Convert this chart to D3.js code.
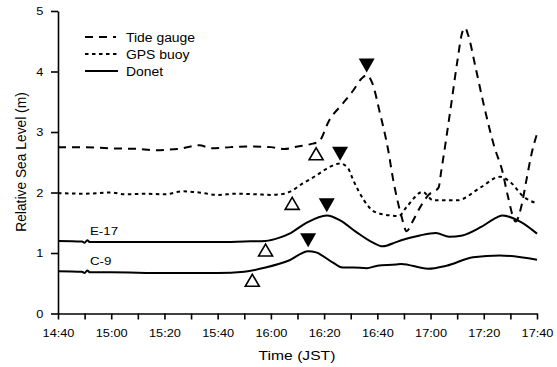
<!DOCTYPE html>
<html>
<head>
<meta charset="utf-8">
<script src="https://cdn.jsdelivr.net/npm/d3@7"></script>
<style>
	body { margin: 0; background: #ffffff; }
	svg text { font-family: "Liberation Sans", Arial, sans-serif; fill: #000000; }
</style>
</head>
<body>
<div id="chart"></div>
<script>
(function() {
	"use strict";

	// tide gauge (dashed)
	var tideTime  = ["14:40","14:50","15:00","15:10","15:16","15:25","15:33","15:38","15:45","15:52","16:00","16:05","16:10","16:15","16:18","16:22","16:27","16:31","16:34","16:36","16:38","16:41","16:44","16:46","16:49","16:51","16:53","16:56","16:59","17:03","17:04","17:08","17:10","17:12","17:13","17:14","17:17","17:20","17:24","17:27","17:29","17:32","17:34","17:36","17:38","17:40"];
	var tideLevel = [2.75, 2.75, 2.73, 2.72, 2.70, 2.72, 2.78, 2.73, 2.75, 2.76, 2.75, 2.72, 2.76, 2.80, 2.84, 3.20, 3.47, 3.69, 3.88, 3.94, 3.82, 3.31, 2.72, 2.20, 1.62, 1.36, 1.50, 1.75, 1.95, 2.08, 2.35, 3.53, 4.15, 4.66, 4.72, 4.62, 4.05, 3.45, 2.75, 2.35, 1.95, 1.52, 1.75, 2.20, 2.65, 2.97];

	// GPS buoy (dotted)
	var buoyTime  = ["14:40","14:50","15:00","15:05","15:13","15:20","15:27","15:33","15:40","15:47","15:55","16:00","16:05","16:07","16:12","16:17","16:22","16:26","16:29","16:31","16:35","16:39","16:45","16:48","16:51","16:57","17:01","17:10","17:19","17:26","17:30","17:35","17:40"];
	var buoyLevel = [1.99, 1.98, 2.00, 1.97, 1.98, 1.97, 2.02, 2.00, 1.96, 1.98, 1.97, 1.96, 1.98, 2.01, 2.15, 2.28, 2.42, 2.48, 2.40, 2.20, 1.87, 1.68, 1.62, 1.61, 1.76, 2.01, 1.87, 1.87, 2.09, 2.26, 2.17, 1.93, 1.82];

	// Donet E-17 (solid)
	var e17Time  = ["14:40","14:49","14:50","14:51","14:52","15:00","15:20","15:40","15:50","15:58","16:03","16:07","16:13","16:21","16:26","16:32","16:38","16:42","16:47","16:49","16:56","17:02","17:07","17:12","17:19","17:25","17:27","17:34","17:40"];
	var e17Level = [1.20, 1.19, 1.17, 1.21, 1.18, 1.18, 1.18, 1.18, 1.19, 1.20, 1.25, 1.32, 1.49, 1.62, 1.54, 1.35, 1.18, 1.11, 1.18, 1.21, 1.29, 1.33, 1.27, 1.29, 1.43, 1.59, 1.62, 1.51, 1.32];

	// Donet C-9 (solid)
	var c9Time  = ["14:40","14:49","14:50","14:51","14:52","15:00","15:20","15:40","15:50","15:58","16:07","16:14","16:17","16:23","16:27","16:31","16:36","16:40","16:47","16:49","16:59","17:06","17:16","17:26","17:40"];
	var c9Level = [0.70, 0.69, 0.67, 0.71, 0.68, 0.68, 0.67, 0.67, 0.69, 0.76, 0.88, 1.03, 1.01, 0.85, 0.76, 0.76, 0.75, 0.79, 0.81, 0.82, 0.74, 0.79, 0.93, 0.96, 0.89];

	// arrival markers: open = first arrival, filled = peak
	var openTime   = ["15:53","15:58","16:08","16:17"];
	var openLevel  = [0.55, 1.05, 1.82, 2.64];
	var peakTime   = ["16:14","16:21","16:26","16:36"];
	var peakLevel  = [1.21, 1.79, 2.64, 4.10];

	var stationNames = ["E-17", "C-9"];
	var stationLevel = [1.20, 0.70];

	var legendNames = ["Tide gauge", "GPS buoy", "Donet"];
	var xTickLabels = ["14:40","15:00","15:20","15:40","16:00","16:20","16:40","17:00","17:20","17:40"];
	var yTicks = [0, 1, 2, 3, 4, 5];

	var w = 557;
	var h = 367;
	var sx = 1.16; // text in the source is a little wide

	var parseTime = d3.timeParse("%H:%M");
	var fmt = d3.timeFormat("%H:%M");

	var x = d3.scaleTime()
		.domain([parseTime("14:40"), parseTime("17:40")])
		.range([58, 537]);
	var y = d3.scaleLinear()
		.domain([0, 5])
		.range([313.5, 11]);

	var svg = d3.select("#chart").append("svg")
		.attr("width", w)
		.attr("height", h);

	function series(times, values) {
		return times.map(function(t, i) { return { t: parseTime(t), v: values[i] }; });
	}

	function addText(parent, str, tx, ty, size, anchor) {
		return parent.append("text")
			.attr("transform", "translate(" + tx + "," + ty + ") scale(" + sx + ",1)")
			.attr("font-size", size)
			.attr("text-anchor", anchor || "start")
			.text(str);
	}

	// axes
	var xAxis = d3.axisBottom(x)
		.tickValues(d3.timeMinute.range(parseTime("14:40"), parseTime("17:41"), 10))
		.tickSize(6)
		.tickSizeOuter(0)
		.tickPadding(10)
		.tickFormat(function(d) { return xTickLabels.indexOf(fmt(d)) >= 0 ? fmt(d) : ""; });

	var gx = svg.append("g")
		.attr("transform", "translate(0," + y(0) + ")")
		.call(xAxis);
	gx.selectAll("text").attr("font-size", 11).attr("transform", "scale(" + sx + ",1)");

	var yAxis = d3.axisLeft(y)
		.tickValues(yTicks)
		.tickSize(7)
		.tickSizeOuter(0)
		.tickFormat(d3.format("d"));

	var gy = svg.append("g")
		.attr("transform", "translate(" + x(parseTime("14:40")) + ",0)")
		.call(yAxis);
	gy.selectAll("text")
		.attr("font-size", 11)
		.attr("x", -14.7 / sx)
		.attr("transform", "scale(" + sx + ",1)");

	svg.selectAll(".domain, .tick line")
		.attr("stroke", "#000")
		.attr("stroke-width", 1.6);

	// titles
	addText(svg, "Time (JST)", 297, 360, 13.5, "middle");
	svg.append("text")
		.attr("transform", "translate(26,162) rotate(-90)")
		.attr("font-size", 13.8)
		.attr("text-anchor", "middle")
		.text("Relative Sea Level (m)");

	// lines
	var line = d3.line()
		.x(function(d) { return x(d.t); })
		.y(function(d) { return y(d.v); })
		.curve(d3.curveMonotoneX);

	var lines = [
		{ data: series(tideTime, tideLevel), dash: "8,6" },
		{ data: series(buoyTime, buoyLevel), dash: "3.5,3.5" },
		{ data: series(e17Time, e17Level), dash: null },
		{ data: series(c9Time, c9Level), dash: null }
	];

	svg.selectAll("path.series")
		.data(lines)
		.enter()
		.append("path")
			.attr("class", "series")
			.attr("d", function(d) { return line(d.data); })
			.attr("fill", "none")
			.attr("stroke", "#000")
			.attr("stroke-width", 2)
			.attr("stroke-dasharray", function(d) { return d.dash; });

	// station labels
	stationNames.forEach(function(name, i) {
		addText(svg, name, x(parseTime("14:52")), y(stationLevel[i]) - 6, 11.5, "start");
	});

	// markers
	function upTri(cx, cy) {
		var hw = 7, hh = 6;
		return "M" + (cx - hw) + "," + (cy + hh) + "L" + (cx + hw) + "," + (cy + hh) + "L" + cx + "," + (cy - hh) + "Z";
	}
	function downTri(cx, cy) {
		var hw = 8, hh = 7;
		return "M" + (cx - hw) + "," + (cy - hh) + "L" + (cx + hw) + "," + (cy - hh) + "L" + cx + "," + (cy + hh) + "Z";
	}

	svg.selectAll("path.open")
		.data(series(openTime, openLevel))
		.enter()
		.append("path")
			.attr("class", "open")
			.attr("d", function(d) { return upTri(x(d.t), y(d.v)); })
			.attr("fill", "#fff")
			.attr("stroke", "#000")
			.attr("stroke-width", 1.6);

	svg.selectAll("path.peak")
		.data(series(peakTime, peakLevel))
		.enter()
		.append("path")
			.attr("class", "peak")
			.attr("d", function(d) { return downTri(x(d.t), y(d.v)); })
			.attr("fill", "#000");

	// legend
	var legendDash = ["8,6", "3.5,3.5", null];
	legendNames.forEach(function(name, i) {
		var ly = 37 + i * 17;
		svg.append("line")
			.attr("x1", 85)
			.attr("x2", i === 0 ? 116 : 118)
			.attr("y1", ly)
			.attr("y2", ly)
			.attr("stroke", "#000")
			.attr("stroke-width", 2)
			.attr("stroke-dasharray", legendDash[i]);
		addText(svg, name, 126, ly + 4.5, 12, "start");
	});
}());
</script>
</body>
</html>
